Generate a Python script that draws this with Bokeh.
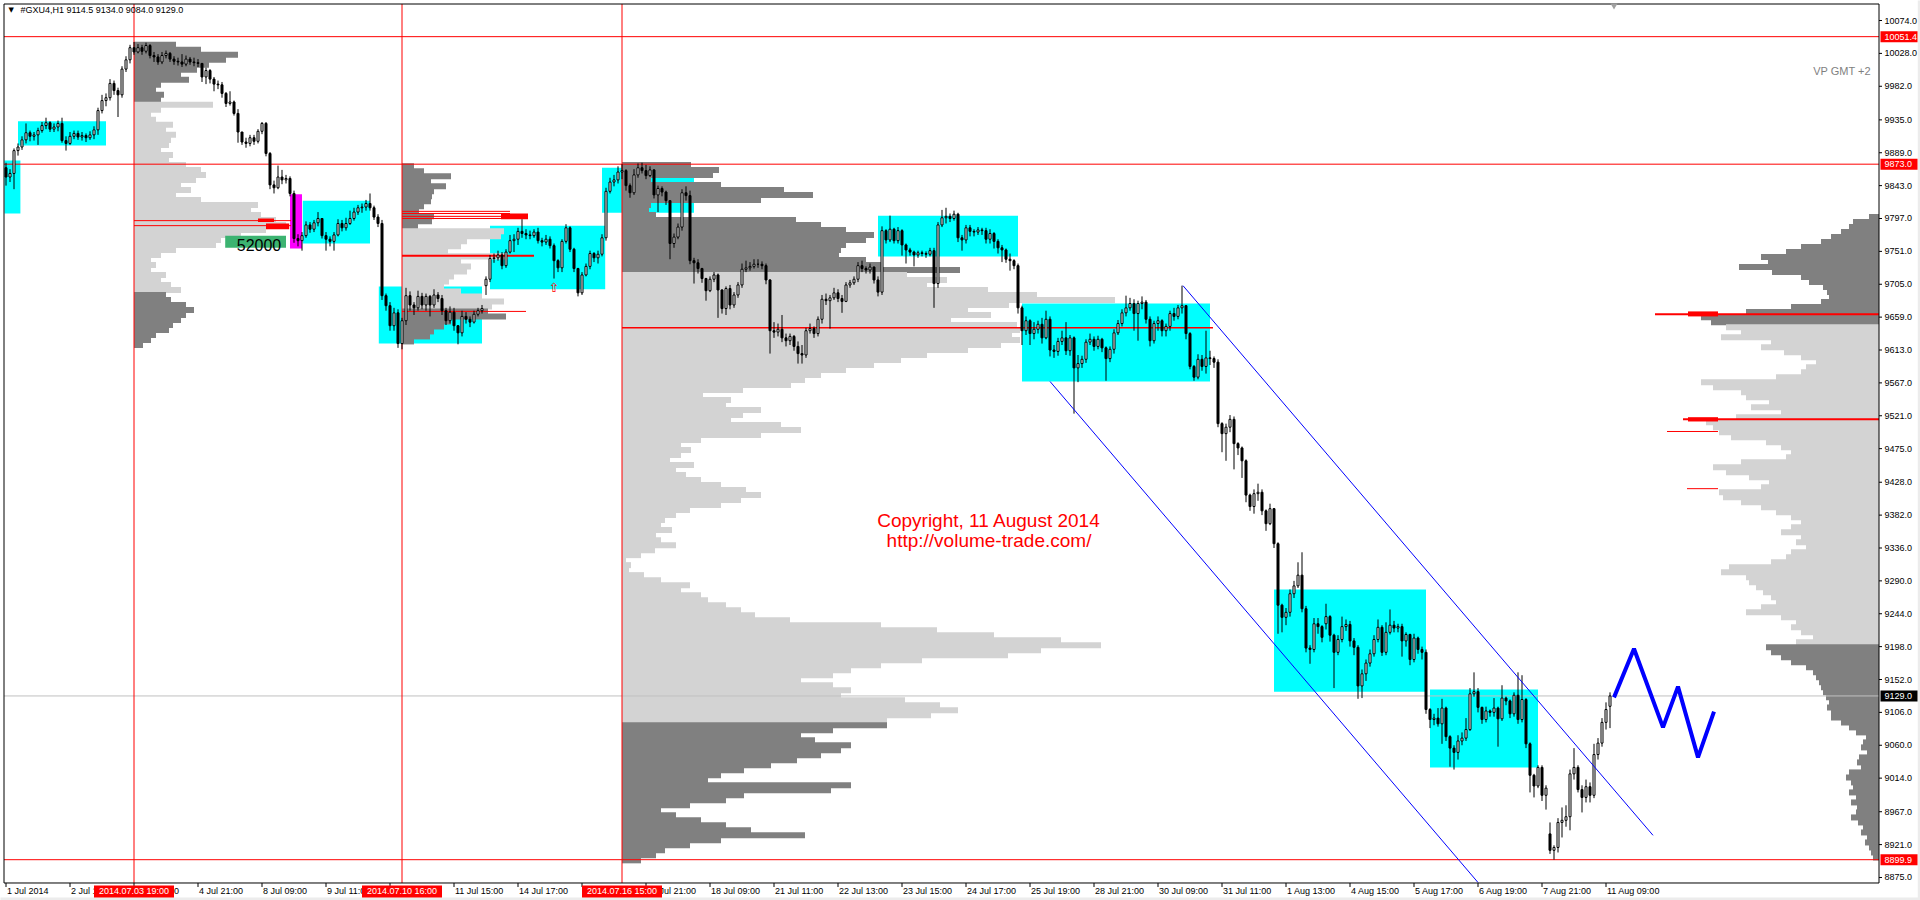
from bokeh.plotting import figure
from bokeh.models import Range1d
from bokeh.embed import file_html
from bokeh.resources import INLINE
from bokeh.core.properties import value

# ---------------- data ----------------
symbol = "#GXU4,H1"
first_open = 9868.0
gap_opens = {120: 9703.0, 330: 9230.0, 386: 8936.0, 401: 9114.5}

closes = [
    9855, 9860, 9892, 9897, 9907, 9917, 9912, 9914, 9920, 9927,
    9931, 9922, 9925, 9930, 9906, 9902, 9912, 9916, 9911, 9913,
    9910, 9914, 9921, 9948, 9962, 9966, 9986, 9976, 9970, 10006,
    10019, 10036, 10030, 10036, 10031, 10039, 10025, 10023, 10016, 10025,
    10028, 10020, 10017, 10016, 10013, 10020, 10016, 10015, 10014, 9995,
    10004, 9992, 9985, 9984, 9972, 9958, 9960, 9944, 9918, 9904,
    9902, 9910, 9905, 9919, 9930, 9888, 9844, 9840, 9855, 9851,
    9853, 9832, 9769, 9766, 9773, 9788, 9782, 9791, 9797, 9773,
    9768, 9765, 9774, 9790, 9784, 9790, 9797, 9806, 9812, 9813,
    9818, 9812, 9799, 9790, 9689, 9675, 9647, 9665, 9622, 9654,
    9689, 9676, 9672, 9688, 9676, 9688, 9676, 9690, 9685, 9668,
    9654, 9666, 9647, 9637, 9660, 9656, 9652, 9663, 9668, 9671,
    9712, 9741, 9742, 9746, 9731, 9750, 9766, 9768, 9779, 9776,
    9774, 9773, 9778, 9766, 9764, 9768, 9759, 9738, 9728, 9765,
    9784, 9754, 9727, 9693, 9718, 9730, 9748, 9742, 9747, 9770,
    9835, 9848, 9851, 9862, 9864, 9843, 9833, 9858, 9868, 9864,
    9857, 9865, 9830, 9839, 9834, 9822, 9762, 9771, 9785, 9833,
    9829, 9738, 9735, 9727, 9713, 9696, 9712, 9718, 9697, 9671,
    9699, 9676, 9690, 9704, 9726, 9728, 9730, 9733, 9733, 9731,
    9711, 9640, 9638, 9642, 9630, 9626, 9632, 9618, 9608, 9606,
    9640, 9643, 9636, 9656, 9684, 9682, 9686, 9693, 9685, 9681,
    9704, 9707, 9712, 9731, 9727, 9725, 9729, 9711, 9694, 9780,
    9767, 9782, 9766, 9780, 9760, 9753, 9750, 9746, 9749, 9748,
    9747, 9752, 9706, 9788, 9798, 9800, 9797, 9803, 9770, 9767,
    9784, 9779, 9778, 9781, 9780, 9768, 9776, 9765, 9756, 9753,
    9740, 9738, 9731, 9672, 9640, 9654, 9636, 9642, 9649, 9630,
    9656, 9613, 9611, 9625, 9630, 9612, 9630, 9588, 9594, 9600,
    9624, 9628, 9618, 9628, 9616, 9601, 9614, 9637, 9650, 9665,
    9672, 9678, 9664, 9678, 9680, 9656, 9626, 9650, 9654, 9640,
    9646, 9664, 9660, 9672, 9675, 9636, 9590, 9575, 9600, 9590,
    9602, 9601, 9596, 9510, 9496, 9505, 9516, 9482, 9476, 9458,
    9410, 9394, 9412, 9414, 9388, 9370, 9391, 9342, 9256, 9239,
    9246, 9272, 9283, 9298, 9251, 9196, 9194, 9230, 9226, 9211,
    9240, 9214, 9190, 9208, 9226, 9229, 9206, 9197, 9143, 9160,
    9175, 9188, 9208, 9225, 9190, 9218, 9228, 9224, 9226, 9206,
    9215, 9180, 9210, 9194, 9190, 9110, 9096, 9098, 9090, 9112,
    9072, 9056, 9050, 9066, 9070, 9082, 9132, 9135, 9113, 9096,
    9108, 9106, 9112, 9097, 9126, 9122, 9104, 9130, 9096, 9124,
    9062, 9018, 9003, 9029, 8990, 9000, 8913, 8917, 8952, 8955,
    8960, 9020, 9029, 8998, 8987, 9002, 8990, 9047, 9063, 9092,
    9110, 9129,
]

highs = [
    9875, 9866, 9895, 9902, 9912, 9930, 9920, 9918, 9924, 9932,
    9938, 9933, 9930, 9934, 9938, 9912, 9918, 9920, 9920, 9918,
    9916, 9919, 9926, 9952, 9970, 9972, 9992, 9990, 9980, 10010,
    10024, 10040, 10044, 10041, 10040, 10043, 10041, 10030, 10027, 10030,
    10032, 10030, 10024, 10022, 10027, 10025, 10023, 10022, 10020, 10012,
    10008, 10006, 9995, 9990, 9988, 9974, 9975, 9962, 9950, 9918,
    9910, 9914, 9914, 9922, 9932, 9932, 9890, 9850, 9871, 9865,
    9858, 9856, 9836, 9775, 9778, 9793, 9792, 9795, 9806, 9797,
    9778, 9772, 9778, 9796, 9795, 9798, 9808, 9812, 9816, 9818,
    9823, 9832, 9815, 9803, 9795, 9692, 9680, 9672, 9670, 9658,
    9700, 9695, 9680, 9696, 9693, 9692, 9690, 9698, 9694, 9690,
    9672, 9674, 9672, 9648, 9668, 9666, 9660, 9668, 9672, 9676,
    9716, 9746, 9748, 9752, 9750, 9754, 9774, 9775, 9784, 9796,
    9782, 9780, 9782, 9784, 9770, 9774, 9772, 9762, 9740, 9768,
    9789, 9786, 9756, 9728, 9722, 9734, 9752, 9750, 9752, 9775,
    9840, 9854, 9858, 9870, 9873, 9866, 9846, 9866, 9874, 9875,
    9872, 9870, 9866, 9843, 9842, 9836, 9822, 9776, 9790, 9838,
    9842, 9836, 9742, 9740, 9728, 9714, 9716, 9722, 9720, 9698,
    9702, 9704, 9694, 9708, 9734, 9738, 9736, 9740, 9740, 9737,
    9734, 9712, 9652, 9650, 9662, 9636, 9636, 9634, 9625, 9620,
    9644, 9650, 9646, 9660, 9690, 9692, 9690, 9700, 9698, 9690,
    9708, 9711, 9716, 9736, 9738, 9730, 9734, 9730, 9716, 9786,
    9782, 9801, 9784, 9785, 9782, 9762, 9756, 9752, 9752, 9752,
    9751, 9756, 9756, 9792, 9809, 9812, 9804, 9808, 9805, 9774,
    9788, 9788, 9782, 9785, 9784, 9784, 9782, 9778, 9768, 9760,
    9755, 9748, 9740, 9734, 9675, 9660, 9656, 9652, 9654, 9658,
    9668, 9660, 9620, 9630, 9640, 9652, 9634, 9632, 9606, 9605,
    9628, 9636, 9632, 9633, 9630, 9618, 9618, 9642, 9655, 9670,
    9689, 9686, 9684, 9682, 9688, 9683, 9660, 9654, 9660, 9656,
    9650, 9668, 9672, 9676, 9703, 9676, 9638, 9592, 9607, 9606,
    9640, 9612, 9604, 9600, 9512, 9510, 9522, 9520, 9484, 9478,
    9460, 9412, 9418, 9426, 9418, 9390, 9398, 9392, 9344, 9258,
    9252, 9278, 9290, 9316, 9330, 9255, 9200, 9238, 9238, 9228,
    9258, 9242, 9216, 9214, 9240, 9236, 9234, 9210, 9200, 9166,
    9180, 9194, 9214, 9236, 9228, 9232, 9250, 9234, 9230, 9230,
    9218, 9216, 9216, 9212, 9198, 9194, 9112, 9104, 9112, 9125,
    9114, 9074, 9060, 9074, 9078, 9098, 9140, 9162, 9140, 9114,
    9114, 9110, 9126, 9114, 9144, 9128, 9124, 9134, 9162, 9158,
    9126, 9064, 9020, 9032, 9032, 9004, 8952, 8920, 8958, 8973,
    8976, 9026, 9056, 9032, 9004, 9012, 9008, 9062, 9070, 9098,
    9120, 9134,
]

lows = [
    9843, 9848, 9838, 9885, 9893, 9902, 9905, 9906, 9900, 9917,
    9922, 9918, 9918, 9919, 9903, 9892, 9900, 9908, 9907, 9906,
    9904, 9907, 9908, 9914, 9944, 9954, 9962, 9970, 9939, 9966,
    10002, 10014, 10026, 10028, 10026, 10028, 10021, 10016, 10012, 10013,
    10021, 10016, 10012, 10011, 10009, 10010, 10012, 10010, 10009, 9988,
    9985, 9986, 9975, 9978, 9966, 9953, 9955, 9941, 9903, 9900,
    9896, 9898, 9900, 9902, 9915, 9884, 9838, 9832, 9838, 9845,
    9846, 9828, 9763, 9758, 9752, 9770, 9777, 9778, 9786, 9769,
    9752, 9758, 9752, 9772, 9779, 9780, 9788, 9794, 9802, 9805,
    9808, 9808, 9795, 9785, 9683, 9668, 9640, 9640, 9616, 9614,
    9648, 9668, 9662, 9668, 9670, 9668, 9660, 9672, 9680, 9662,
    9648, 9650, 9640, 9621, 9632, 9650, 9645, 9650, 9660, 9664,
    9690, 9708, 9735, 9738, 9726, 9728, 9748, 9750, 9760, 9770,
    9768, 9768, 9770, 9762, 9758, 9760, 9755, 9713, 9722, 9722,
    9762, 9750, 9722, 9688, 9690, 9716, 9726, 9736, 9734, 9744,
    9766, 9832, 9842, 9846, 9852, 9836, 9826, 9830, 9854, 9860,
    9852, 9855, 9825, 9806, 9828, 9816, 9740, 9756, 9768, 9780,
    9822, 9733, 9706, 9720, 9707, 9682, 9694, 9708, 9658, 9664,
    9662, 9670, 9672, 9686, 9700, 9722, 9724, 9727, 9728, 9726,
    9705, 9608, 9630, 9632, 9624, 9618, 9620, 9612, 9594, 9594,
    9602, 9636, 9630, 9632, 9650, 9676, 9643, 9683, 9680, 9665,
    9680, 9700, 9704, 9708, 9722, 9720, 9720, 9706, 9688, 9690,
    9762, 9764, 9762, 9762, 9745, 9734, 9745, 9730, 9742, 9744,
    9742, 9744, 9672, 9700, 9785, 9790, 9792, 9794, 9764, 9752,
    9762, 9772, 9772, 9774, 9774, 9762, 9762, 9755, 9748, 9736,
    9735, 9724, 9726, 9664, 9620, 9634, 9620, 9628, 9636, 9622,
    9628, 9604, 9602, 9605, 9620, 9606, 9605, 9524, 9568, 9588,
    9595, 9620, 9612, 9614, 9610, 9570, 9596, 9608, 9634, 9646,
    9660, 9668, 9640, 9626, 9670, 9650, 9618, 9622, 9640, 9632,
    9632, 9640, 9654, 9656, 9664, 9628, 9586, 9570, 9572, 9584,
    9580, 9592, 9588, 9505, 9470, 9458, 9498, 9446, 9466, 9434,
    9400, 9388, 9384, 9402, 9382, 9360, 9368, 9336, 9216, 9218,
    9228, 9240, 9266, 9280, 9246, 9190, 9174, 9190, 9216, 9204,
    9222, 9205, 9140, 9186, 9204, 9220, 9198, 9186, 9125, 9126,
    9150, 9170, 9184, 9204, 9185, 9186, 9215, 9218, 9218, 9184,
    9198, 9172, 9176, 9188, 9180, 9104, 9084, 9088, 9086, 9062,
    9066, 9030, 9026, 9040, 9060, 9066, 9080, 9128, 9106, 9090,
    9092, 9100, 9100, 9058, 9094, 9116, 9098, 9100, 9090, 9092,
    9056, 8994, 8987, 9000, 8982, 8970, 8908, 8900, 8910, 8931,
    8946, 8941, 9012, 8994, 8966, 8980, 8980, 8986, 9040, 9058,
    9082, 9084,
]

# price scale ticks
price_ticks = [10074, 10028, 9982, 9935, 9889, 9843, 9797, 9751, 9705, 9659,
               9613, 9567, 9521, 9475, 9428, 9382, 9336, 9290, 9244, 9198,
               9152, 9106, 9060, 9014, 8967, 8921, 8875]
marked_prices = [10051.4, 9873.0, 8899.9]
last_price = 9129.0

# time scale (bar index -> label)
time_tick_bars = list(range(0, 401, 16))
time_tick_labels = ["1 Jul 2014", "2 Jul 17:00", "3 Jul 19:00", "4 Jul 21:00", "8 Jul 09:00",
                    "9 Jul 11:00", "10 Jul 13:00", "11 Jul 15:00", "14 Jul 17:00", "15 Jul 19:00",
                    "16 Jul 21:00", "18 Jul 09:00", "21 Jul 11:00", "22 Jul 13:00", "23 Jul 15:00",
                    "24 Jul 17:00", "25 Jul 19:00", "28 Jul 21:00", "30 Jul 09:00", "31 Jul 11:00",
                    "1 Aug 13:00", "4 Aug 15:00", "5 Aug 17:00", "6 Aug 19:00", "7 Aug 21:00",
                    "11 Aug 09:00"]
vline_bars = [32, 99, 154]
vline_labels = ["2014.07.03 19:00", "2014.07.10 16:00", "2014.07.16 15:00"]
shift_marker_bar = 402

# cyan zones: start bar, end bar, top price, bottom price
zone_start = [-0.4, 3.0, 74.2, 93.2, 121.0, 149.0, 218.0, 254.0, 317.0, 356.0]
zone_end = [3.6, 25.0, 91.0, 119.0, 149.8, 172.0, 253.0, 301.0, 355.0, 383.0]
zone_top = [9878, 9933, 9822, 9702, 9787, 9868, 9801, 9678, 9278, 9138]
zone_bot = [9804, 9899, 9762, 9622, 9698, 9805, 9744, 9569, 9135, 9029]
magenta_zone = [71.0, 74.0, 9831, 9755]
tag_zone = [54.8, 70.0, 9773, 9756]
tag_text = "52000"

# volume profiles (row volumes, top row price, anchor bar, value-area bounds)
ROW = 7.0
vp1_vol = [42, 67, 104, 92, 75, 63, 47, 55, 27, 22, 30, 27,
           79, 27, 17, 22, 39, 32, 42, 37, 35, 27, 39, 35, 52, 67, 72, 62, 47, 57, 42, 67,
           124, 117, 127, 142, 152, 132, 107, 87, 82, 42, 27, 17, 22, 17, 32, 27, 37, 47,
           32, 37, 52, 60, 52, 47, 39, 35, 22, 17, 9]
vp1_top, vp1_bar, vp1_va = 10040.0, 32, (9959.5, 9693.5)

vp2_vol = [12, 22, 49, 29, 44, 32, 30, 29, 22, 17, 32, 30, 16,
           102, 99, 65, 59, 46, 106, 59, 69, 65, 52, 47, 42, 59, 80, 102, 90,
           86, 104, 49, 42, 32, 28, 12]
vp2_top, vp2_bar, vp2_va = 9870.0, 99, (9782.5, 9670.5)

vp3_vol = [69, 97, 91, 29, 99, 162, 191, 139, 29, 27, 34, 174, 199, 224, 252, 244, 224, 219,
           217, 244, 259, 338,
           285, 325, 305, 366, 415, 493, 387, 346, 369, 329, 395, 398, 390, 398, 379, 346, 305,
           279, 252, 224, 199, 183, 169, 121, 81, 109, 104, 139, 121, 109, 159, 179, 139, 79,
           59, 69, 59, 48, 72, 54, 64, 79, 99, 124, 139, 119,
           99, 68, 54, 43, 39, 50, 34, 39, 54, 33, 19, 4, 9, 7, 22, 39, 68, 59, 79, 86, 104,
           119, 133, 168, 259, 315, 372, 439, 479, 419, 386, 300, 259, 229, 211, 179, 211, 229,
           219, 283, 318, 336, 309, 265,
           265, 211, 179, 193, 229, 219, 199, 175, 149, 122, 99, 86, 229, 209, 122, 104, 68,
           39, 54, 79, 104, 129, 183, 99, 68, 43, 34, 19]
vp3_top, vp3_bar, vp3_va = 9872.0, 154, (9721.5, 9091.5)

vp4_vol = [10, 26, 30, 38, 48, 58, 78, 93, 118, 111, 140, 107, 78, 70, 56, 52, 50, 58, 88,
           133, 178, 168,
           153, 138, 158, 108, 118, 95, 78, 63, 73, 78, 103, 178, 166, 138, 133, 110, 128, 98,
           143, 173, 166, 160, 148, 113, 98, 88, 93, 138, 166, 153, 130, 110, 118, 160, 156,
           138, 118, 103, 88, 78, 88, 98, 78, 83, 73, 88, 93, 108, 150, 158, 133, 130, 123,
           116, 108, 103, 118, 133, 98, 83, 88, 78, 66, 83,
           113, 108, 98, 88, 73, 66, 63, 60, 58, 56, 53, 50, 52, 48, 48, 38, 30, 23, 13, 16,
           18, 12, 20, 22, 18, 30, 33, 28, 26, 30, 23, 28, 22, 23, 28, 21, 16, 18, 12, 14, 10,
           8, 6]
vp4_top, vp4_va = 9799.0, (9648.5, 9200.5)

# red level lines: price, start bar, end bar, width
level_price = [9644, 9794, 9787, 9807, 9804, 9800, 9797, 9745, 9667]
level_x0 = [154, 32, 32, 99, 99, 99, 99, 99, 99]
level_x1 = [301.75, 71.25, 71.25, 126, 126, 126, 126, 132, 130]
level_w = [1.5, 1, 1, 1, 1, 1, 1, 2, 1]
block_x0 = [63.0, 65.0, 123.75]
block_x1 = [67.0, 70.8, 130.5]
block_top = [9797, 9790, 9804]
block_bot = [9792, 9782, 9796]
# marks on the right profile, in bars back from the right edge
rlev_price = [9663, 9516, 9499, 9419]
rlev_from = [56.0, 49.0, 53.0, 48.0]
rlev_to = [0.0, 0.0, 40.25, 40.25]
rlev_w = [2, 2, 1, 1]
rblock_top = [9667, 9519]
rblock_bot = [9660, 9513]

# trend channel and projected path
chan_x0 = [294.25, 261.0]
chan_y0 = [9703, 9569]
chan_x1 = [411.75, 368.0]
chan_y1 = [8934, 8868]
path_x = [402.0, 407.0, 414.25, 418.0, 423.0, 427.0]
path_y = [9127, 9195, 9085, 9142, 9043, 9107]

# ---------------- figure ----------------
# canvas coordinates: bar b sits at 5.5 + 4*b px, price p at (10102 - p) / 1.3991 px
X0, X1 = -1.375, 478.625
Y0, Y1 = 8842.8, 10102.0
FL, FR = -0.5, 468.25          # chart frame, left/right (bars)
FT, FB = 10097.1, 8867.3       # chart frame, top/bottom (prices)
PX_PRICE = 1.3991              # price units per pixel
PX_BAR = 0.25                  # bars per pixel
FONT = "Liberation Sans"

p = figure(width=1920, height=900, x_range=Range1d(X0, X1), y_range=Range1d(Y0, Y1),
           output_backend="svg", toolbar_location=None,
           x_axis_location=None, y_axis_location=None,
           min_border_left=0, min_border_right=0, min_border_top=0, min_border_bottom=0)
p.grid.visible = False
p.outline_line_color = None
p.background_fill_color = "white"
p.border_fill_color = "white"

# zones
p.quad(left=zone_start, right=zone_end, top=zone_top, bottom=zone_bot,
       fill_color="#00ffff", line_color=None)
p.quad(left=[magenta_zone[0]], right=[magenta_zone[1]], top=[magenta_zone[2]],
       bottom=[magenta_zone[3]], fill_color="#ff00ff", line_color=None)

DARK, LIGHT = "#808080", "#d3d3d3"
VOL_SCALE = 0.25


def draw_profile(vols, top, anchor, va, to_left=False):
    ys = [top - ROW * k for k in range(len(vols))]
    lens = [v * VOL_SCALE for v in vols]
    if to_left:
        left = [anchor - ln for ln in lens]
        right = [anchor] * len(lens)
    else:
        left = [anchor] * len(lens)
        right = [anchor + ln for ln in lens]
    cols = [LIGHT if va[1] < y < va[0] else DARK for y in ys]
    p.hbar(y=ys, left=left, right=right, height=ROW * 1.2, fill_color=cols, line_color=None)


draw_profile(vp3_vol, vp3_top, vp3_bar, vp3_va)
draw_profile(vp4_vol, vp4_top, FR, vp4_va, to_left=True)
draw_profile(vp1_vol, vp1_top, vp1_bar, vp1_va)
draw_profile(vp2_vol, vp2_top, vp2_bar, vp2_va)

p.quad(left=[tag_zone[0]], right=[tag_zone[1]], top=[tag_zone[2]], bottom=[tag_zone[3]],
       fill_color="#3cb371", line_color=None)

# level lines
p.segment(x0=level_x0, y0=level_price, x1=level_x1, y1=level_price,
          line_color="red", line_width=level_w)
p.quad(left=block_x0, right=block_x1, top=block_top, bottom=block_bot,
       fill_color="red", line_color=None)
p.segment(x0=[FR - f for f in rlev_from], y0=rlev_price, x1=[FR - t for t in rlev_to],
          y1=rlev_price, line_color="red", line_width=rlev_w)
p.quad(left=[FR - 47.75] * 2, right=[FR - 40.25] * 2, top=rblock_top, bottom=rblock_bot,
       fill_color="red", line_color=None)

p.segment(x0=[FL] * 3, y0=marked_prices, x1=[FR] * 3, y1=marked_prices,
          line_color="red", line_width=1)
p.segment(x0=[FL], y0=[last_price], x1=[FR], y1=[last_price], line_color="#c0c0c0", line_width=1)
p.segment(x0=vline_bars, y0=[FB] * 3, x1=vline_bars, y1=[FT] * 3, line_color="red", line_width=1)

# candles
n = len(closes)
opens = [first_open] + closes[:-1]
for k, v in gap_opens.items():
    opens[k] = v
xs = list(range(n))
body_top = [max(o, c) for o, c in zip(opens, closes)]
body_bot = [min(o, c) for o, c in zip(opens, closes)]
wick_hi = [max(h, t) for h, t in zip(highs, body_top)]
wick_lo = [min(l, b) for l, b in zip(lows, body_bot)]
p.segment(x0=xs, y0=wick_lo, x1=xs, y1=wick_hi, line_color="black", line_width=1)
up = [i for i in xs if closes[i] >= opens[i]]
dn = [i for i in xs if closes[i] < opens[i]]
p.vbar(x=up, top=[body_top[i] for i in up], bottom=[body_bot[i] for i in up], width=0.5,
       fill_color="white", line_color="black", line_width=1)
p.vbar(x=dn, top=[body_top[i] for i in dn], bottom=[body_bot[i] for i in dn], width=0.5,
       fill_color="black", line_color="black", line_width=1)

# channel and projection
p.segment(x0=chan_x0, y0=chan_y0, x1=chan_x1, y1=chan_y1, line_color="#0000ff", line_width=1)
p.line(path_x, path_y, line_color="#0000ff", line_width=4)

# mask outside the chart frame, then frame and scales
p.quad(left=[FR, X0 - 1, X0 - 1, X0 - 1], right=[X1 + 1, X1 + 1, X1 + 1, FL],
       top=[Y1 + 10, FB, Y1 + 10, Y1 + 10], bottom=[Y0 - 10, Y0 - 10, FT, Y0 - 10],
       fill_color="white", line_color=None)
# window border strips (right edge and bottom)
p.quad(left=[FR + 9.7, X0 - 1], right=[X1 + 1, X1 + 1], top=[Y1 + 10, FB - 14.5 * PX_PRICE],
       bottom=[Y0 - 10, Y0 - 10], fill_color="#ececec", line_color=None)
p.segment(x0=[FL, FR, FL, FL], y0=[FB, FB, FT, FB], x1=[FL, FR, FR, FR], y1=[FT, FT, FT, FB],
          line_color="black", line_width=1)
p.scatter(x=[shift_marker_bar], y=[FT - 1.5 * PX_PRICE], marker="inverted_triangle", size=7,
          fill_color="#a0a0a0", line_color=None)

# price scale
p.segment(x0=[FR] * len(price_ticks), y0=price_ticks, x1=[FR + 3 * PX_BAR] * len(price_ticks),
          y1=price_ticks, line_color="black", line_width=1)
p.text(x=[FR + 5.5 * PX_BAR] * len(price_ticks), y=price_ticks,
       text=["%.1f" % t for t in price_ticks],
       text_font=value(FONT), text_font_size=value("9px"), text_color="black",
       text_align="left", text_baseline="middle")

# time scale
tick_low = FB - 4 * PX_PRICE
lab_y = FB - 8.5 * PX_PRICE
p.segment(x0=time_tick_bars, y0=[FB] * len(time_tick_bars), x1=time_tick_bars,
          y1=[tick_low] * len(time_tick_bars), line_color="black", line_width=1)
p.text(x=[b + PX_BAR for b in time_tick_bars], y=[lab_y] * len(time_tick_bars),
       text=time_tick_labels, text_font=value(FONT), text_font_size=value("9px"),
       text_color="black", text_align="left", text_baseline="middle")

# highlighted marks on the time scale
p.quad(left=[b - 40 * PX_BAR for b in vline_bars], right=[b + 40 * PX_BAR for b in vline_bars],
       top=[FB - 2.5 * PX_PRICE] * 3, bottom=[FB - 14.5 * PX_PRICE] * 3,
       fill_color="red", line_color=None)
p.text(x=vline_bars, y=[lab_y] * 3, text=vline_labels, text_font=value(FONT),
       text_font_size=value("9px"), text_color="white", text_align="center",
       text_baseline="middle")

# highlighted marks on the price scale
mark_p = marked_prices + [last_price]
mark_c = ["red"] * len(marked_prices) + ["black"]
p.quad(left=[FR + 1.5 * PX_BAR] * 4, right=[FR + 38.5 * PX_BAR] * 4,
       top=[m + 5.5 * PX_PRICE for m in mark_p], bottom=[m - 5.5 * PX_PRICE for m in mark_p],
       fill_color=mark_c, line_color=None)
p.text(x=[FR + 5.5 * PX_BAR] * 4, y=mark_p, text=["%.1f" % m for m in mark_p],
       text_font=value(FONT), text_font_size=value("9px"), text_color="white",
       text_align="left", text_baseline="middle")

# ---------------- texts ----------------
last = n - 1
header = "%s  %.1f %.1f %.1f %.1f" % (symbol, opens[last], highs[last], lows[last], closes[last])
top_y = 10102.0 - 10 * PX_PRICE
p.text(x=[0.6], y=[top_y], text=["\u25bc"], text_font=value("DejaVu Sans"),
       text_font_size=value("7px"), text_color="black", text_align="left", text_baseline="middle")
p.text(x=[3.6], y=[top_y], text=[header], text_font=value(FONT), text_font_size=value("9px"),
       text_color="black", text_align="left", text_baseline="middle")
p.text(x=[FR - 2.0], y=[10004.0], text=["VP GMT +2"], text_font=value(FONT),
       text_font_size=value("11px"), text_color="#7f7f7f", text_align="right",
       text_baseline="middle")
p.text(x=[245.75, 245.75], y=[9374.5, 9346.5],
       text=["Copyright, 11 August 2014", "http://volume-trade.com/"],
       text_font=value(FONT), text_font_size=value("19px"), text_color="red",
       text_align="center", text_baseline="middle")
p.text(x=[63.25], y=[9760.6], text=[tag_text], text_font=value(FONT),
       text_font_size=value("16px"), text_color="black", text_align="center",
       text_baseline="middle")
p.text(x=[137.0], y=[9701.0], text=["\u21e7"], text_font=value("DejaVu Sans"),
       text_font_size=value("13px"), text_color="red", text_align="center",
       text_baseline="middle")

open("out.html", "w").write(file_html(p, INLINE))
